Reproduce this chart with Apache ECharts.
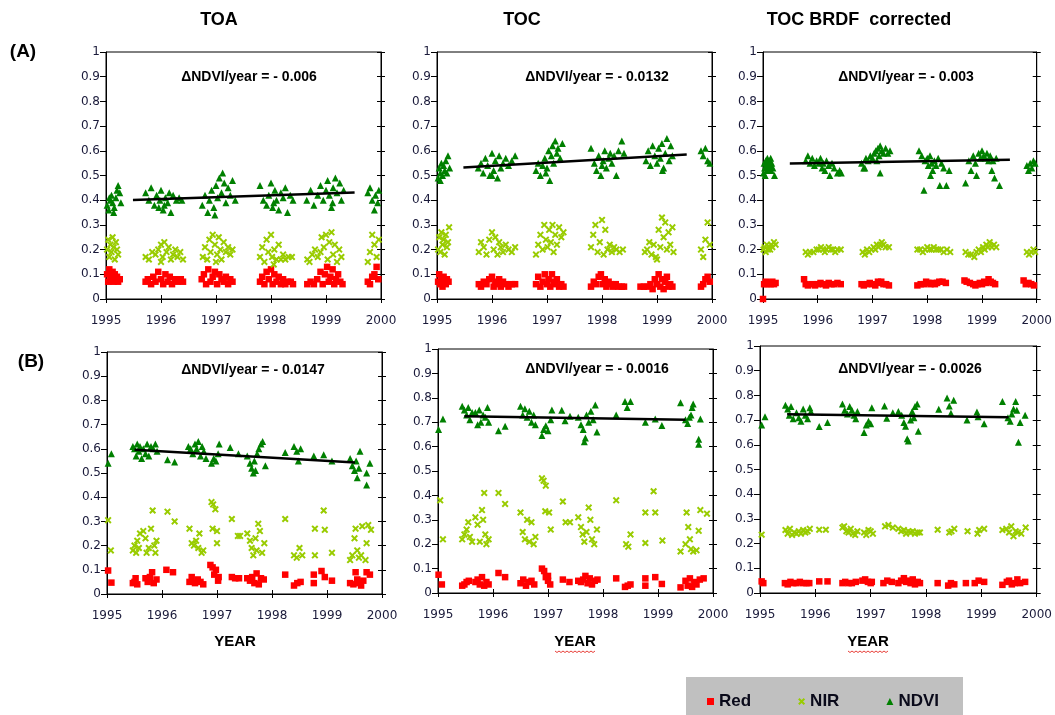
<!DOCTYPE html>
<html>
<head>
<meta charset="utf-8">
<script src="https://cdn.jsdelivr.net/npm/echarts@6/dist/echarts.min.js"></script>
<style>
  html, body { margin: 0; padding: 0; background: #fff; }
  #chart { width: 1055px; height: 715px; }
</style>
</head>
<body>
<div id="chart"></div>
<script>
// (A) TOA
var aToaNdvi = [[1995.02,0.38],[1995.05,0.36],[1995.08,0.40],[1995.1,0.42],[1995.12,0.39],[1995.15,0.37],[1995.18,0.41],[1995.2,0.44],[1995.22,0.46],[1995.25,0.43],[1995.27,0.39],[1995.14,0.35],[1995.06,0.41],
  [1995.72,0.43],[1995.78,0.40],[1995.82,0.45],[1995.88,0.38],[1995.92,0.42],[1995.96,0.37],[1996.0,0.44],[1996.04,0.36],[1996.08,0.41],[1996.12,0.39],[1996.15,0.43],[1996.18,0.35],[1996.22,0.42],[1996.28,0.40],[1996.33,0.41],[1996.38,0.40],[1995.98,0.40],[1996.06,0.38],
  [1996.75,0.38],[1996.8,0.42],[1996.85,0.35],[1996.88,0.40],[1996.92,0.44],[1996.96,0.37],[1997.0,0.46],[1997.03,0.41],[1997.06,0.49],[1997.1,0.43],[1997.12,0.51],[1997.15,0.47],[1997.18,0.39],[1997.22,0.45],[1997.26,0.42],[1997.3,0.48],[1997.35,0.40],[1996.98,0.34],
  [1997.8,0.46],[1997.86,0.40],[1997.92,0.38],[1997.96,0.42],[1998.0,0.47],[1998.03,0.37],[1998.07,0.44],[1998.1,0.40],[1998.14,0.36],[1998.18,0.43],[1998.22,0.41],[1998.26,0.45],[1998.3,0.35],[1998.35,0.42],[1998.4,0.40],[1998.05,0.39],
  [1998.65,0.40],[1998.72,0.44],[1998.78,0.38],[1998.85,0.42],[1998.9,0.46],[1998.95,0.40],[1999.0,0.44],[1999.03,0.48],[1999.06,0.42],[1999.1,0.37],[1999.13,0.45],[1999.17,0.49],[1999.2,0.43],[1999.25,0.47],[1999.28,0.40],[1999.32,0.44],[1999.12,0.39],
  [1999.76,0.43],[1999.8,0.45],[1999.84,0.40],[1999.88,0.36],[1999.9,0.42],[1999.94,0.39],[1999.96,0.44]]
var aToaNir = [[1995.02,0.2],[1995.04,0.24],[1995.06,0.17],[1995.08,0.22],[1995.1,0.19],[1995.12,0.25],[1995.14,0.21],[1995.16,0.16],[1995.18,0.23],[1995.2,0.2],[1995.22,0.18],
  [1995.72,0.17],[1995.78,0.16],[1995.84,0.19],[1995.9,0.18],[1995.95,0.2],[1996.0,0.22],[1996.03,0.17],[1996.06,0.23],[1996.1,0.19],[1996.14,0.21],[1996.18,0.16],[1996.22,0.18],[1996.26,0.2],[1996.3,0.17],[1996.35,0.19],[1996.4,0.16],[1996.0,0.15],
  [1996.76,0.17],[1996.8,0.21],[1996.84,0.16],[1996.88,0.24],[1996.9,0.19],[1996.94,0.26],[1996.98,0.22],[1997.02,0.18],[1997.05,0.25],[1997.08,0.2],[1997.1,0.16],[1997.14,0.23],[1997.18,0.19],[1997.22,0.21],[1997.26,0.18],[1997.3,0.2],[1997.0,0.15],
  [1997.8,0.17],[1997.84,0.21],[1997.88,0.15],[1997.92,0.24],[1997.95,0.19],[1998.0,0.26],[1998.02,0.17],[1998.06,0.2],[1998.1,0.16],[1998.14,0.22],[1998.18,0.16],[1998.22,0.18],[1998.26,0.16],[1998.32,0.17],[1998.38,0.17],[1998.05,0.14],
  [1998.66,0.16],[1998.7,0.15],[1998.75,0.18],[1998.8,0.2],[1998.85,0.17],[1998.9,0.19],[1998.92,0.25],[1998.96,0.21],[1999.0,0.26],[1999.03,0.16],[1999.06,0.23],[1999.1,0.27],[1999.13,0.18],[1999.16,0.22],[1999.2,0.15],[1999.24,0.2],[1999.28,0.17],
  [1999.76,0.15],[1999.8,0.19],[1999.84,0.26],[1999.88,0.22],[1999.92,0.17],[1999.96,0.24]]
var aToaRed = [[1995.02,0.1],[1995.04,0.07],[1995.06,0.12],[1995.08,0.09],[1995.1,0.08],[1995.12,0.11],[1995.14,0.07],[1995.16,0.1],[1995.18,0.08],[1995.2,0.09],[1995.22,0.07],[1995.25,0.08],
  [1995.72,0.07],[1995.76,0.08],[1995.82,0.06],[1995.86,0.09],[1995.9,0.07],[1995.95,0.11],[1996.0,0.08],[1996.04,0.06],[1996.08,0.1],[1996.12,0.07],[1996.16,0.09],[1996.2,0.06],[1996.25,0.08],[1996.3,0.07],[1996.36,0.08],[1996.4,0.07],
  [1996.74,0.08],[1996.78,0.1],[1996.82,0.06],[1996.86,0.12],[1996.9,0.07],[1996.94,0.09],[1996.98,0.11],[1997.02,0.06],[1997.06,0.1],[1997.1,0.08],[1997.14,0.07],[1997.18,0.09],[1997.22,0.06],[1997.26,0.08],[1997.3,0.07],
  [1997.8,0.07],[1997.84,0.09],[1997.88,0.06],[1997.92,0.11],[1997.96,0.08],[1998.0,0.12],[1998.03,0.06],[1998.06,0.1],[1998.1,0.07],[1998.14,0.09],[1998.18,0.06],[1998.22,0.08],[1998.26,0.06],[1998.3,0.07],[1998.36,0.07],[1998.4,0.06],
  [1998.66,0.06],[1998.72,0.07],[1998.78,0.06],[1998.84,0.08],[1998.9,0.11],[1998.94,0.06],[1998.98,0.1],[1999.02,0.13],[1999.05,0.07],[1999.08,0.09],[1999.12,0.12],[1999.15,0.06],[1999.18,0.08],[1999.22,0.1],[1999.26,0.07],[1999.3,0.06],
  [1999.76,0.07],[1999.8,0.06],[1999.84,0.09],[1999.88,0.1],[1999.92,0.13],[1999.95,0.08]]
var aToaTrend = [[1995.49,0.401],[1999.52,0.431]]

// (A) TOC
var aTocNdvi = [[1995.02,0.49],[1995.04,0.53],[1995.06,0.51],[1995.08,0.55],[1995.1,0.5],[1995.12,0.54],[1995.14,0.52],[1995.16,0.56],[1995.18,0.51],[1995.2,0.58],[1995.23,0.53],[1995.06,0.48],
  [1995.75,0.53],[1995.8,0.55],[1995.84,0.51],[1995.88,0.57],[1995.92,0.54],[1995.96,0.5],[1996.0,0.59],[1996.03,0.52],[1996.06,0.56],[1996.1,0.49],[1996.13,0.58],[1996.16,0.53],[1996.2,0.55],[1996.25,0.57],[1996.3,0.54],[1996.36,0.56],[1996.42,0.58],[1996.0,0.5],
  [1996.8,0.52],[1996.84,0.55],[1996.88,0.5],[1996.92,0.54],[1996.96,0.57],[1997.0,0.53],[1997.03,0.6],[1997.05,0.48],[1997.08,0.58],[1997.1,0.62],[1997.12,0.55],[1997.15,0.64],[1997.18,0.59],[1997.2,0.61],[1997.24,0.57],[1997.28,0.63],[1996.98,0.51],
  [1997.8,0.61],[1997.86,0.55],[1997.9,0.52],[1997.94,0.58],[1997.98,0.5],[1998.02,0.56],[1998.05,0.6],[1998.08,0.53],[1998.12,0.57],[1998.15,0.59],[1998.18,0.55],[1998.22,0.58],[1998.26,0.5],[1998.3,0.6],[1998.36,0.64],[1998.4,0.59],[1998.0,0.54],
  [1998.8,0.56],[1998.84,0.6],[1998.88,0.54],[1998.92,0.62],[1998.96,0.58],[1999.0,0.55],[1999.03,0.61],[1999.06,0.57],[1999.09,0.63],[1999.12,0.53],[1999.15,0.59],[1999.18,0.65],[1999.22,0.56],[1999.25,0.62],[1999.28,0.58],[1999.1,0.52],
  [1999.8,0.6],[1999.84,0.58],[1999.88,0.61],[1999.92,0.56],[1999.96,0.55]]
var aTocNir = [[1995.02,0.2],[1995.04,0.25],[1995.06,0.19],[1995.08,0.27],[1995.1,0.22],[1995.12,0.24],[1995.14,0.18],[1995.16,0.26],[1995.18,0.21],[1995.2,0.23],[1995.22,0.29],
  [1995.76,0.19],[1995.8,0.23],[1995.85,0.21],[1995.9,0.18],[1995.95,0.24],[1996.0,0.27],[1996.03,0.2],[1996.06,0.25],[1996.1,0.18],[1996.13,0.23],[1996.16,0.21],[1996.2,0.19],[1996.25,0.22],[1996.3,0.2],[1996.36,0.19],[1996.42,0.21],
  [1996.8,0.18],[1996.84,0.22],[1996.88,0.26],[1996.92,0.2],[1996.95,0.3],[1996.98,0.24],[1997.01,0.21],[1997.04,0.28],[1997.07,0.23],[1997.1,0.3],[1997.12,0.19],[1997.15,0.26],[1997.18,0.22],[1997.22,0.29],[1997.26,0.25],[1997.3,0.27],
  [1997.8,0.21],[1997.84,0.26],[1997.88,0.3],[1997.92,0.19],[1997.96,0.23],[1998.0,0.32],[1998.03,0.18],[1998.06,0.28],[1998.1,0.2],[1998.14,0.22],[1998.18,0.19],[1998.22,0.21],[1998.26,0.2],[1998.32,0.19],[1998.38,0.2],
  [1998.78,0.19],[1998.82,0.2],[1998.86,0.23],[1998.9,0.18],[1998.94,0.22],[1998.98,0.17],[1999.0,0.16],[1999.03,0.28],[1999.06,0.21],[1999.09,0.33],[1999.12,0.25],[1999.15,0.31],[1999.18,0.2],[1999.21,0.27],[1999.24,0.22],[1999.28,0.29],[1999.3,0.19],
  [1999.8,0.2],[1999.84,0.17],[1999.88,0.24],[1999.92,0.31],[1999.96,0.22]]
var aTocRed = [[1995.02,0.07],[1995.04,0.1],[1995.06,0.06],[1995.08,0.08],[1995.1,0.05],[1995.12,0.09],[1995.14,0.07],[1995.16,0.06],[1995.18,0.08],[1995.21,0.07],
  [1995.76,0.06],[1995.8,0.05],[1995.85,0.07],[1995.9,0.06],[1995.95,0.08],[1996.0,0.09],[1996.03,0.05],[1996.06,0.07],[1996.1,0.06],[1996.13,0.08],[1996.16,0.05],[1996.2,0.07],[1996.25,0.06],[1996.3,0.05],[1996.36,0.06],[1996.42,0.06],
  [1996.8,0.06],[1996.84,0.09],[1996.88,0.05],[1996.92,0.07],[1996.96,0.1],[1997.0,0.06],[1997.03,0.08],[1997.06,0.05],[1997.09,0.1],[1997.12,0.07],[1997.15,0.06],[1997.18,0.08],[1997.22,0.05],[1997.26,0.06],[1997.3,0.05],
  [1997.8,0.05],[1997.85,0.07],[1997.9,0.06],[1997.94,0.09],[1997.98,0.1],[1998.02,0.06],[1998.05,0.08],[1998.08,0.05],[1998.12,0.07],[1998.16,0.06],[1998.2,0.05],[1998.25,0.06],[1998.3,0.05],[1998.36,0.05],[1998.4,0.05],
  [1998.7,0.05],[1998.76,0.05],[1998.82,0.05],[1998.88,0.06],[1998.92,0.04],[1998.96,0.08],[1999.0,0.06],[1999.03,0.1],[1999.06,0.05],[1999.09,0.08],[1999.12,0.04],[1999.15,0.07],[1999.18,0.09],[1999.21,0.05],[1999.24,0.06],[1999.28,0.05],
  [1999.8,0.05],[1999.84,0.06],[1999.88,0.08],[1999.92,0.09],[1999.96,0.07]]
var aTocTrend = [[1995.48,0.532],[1999.54,0.585]]

// (A) TOC BRDF corrected
var aBrdfNdvi = [[1995.01,0.51],[1995.02,0.55],[1995.03,0.53],[1995.04,0.5],[1995.05,0.56],[1995.06,0.54],[1995.07,0.52],[1995.08,0.57],[1995.09,0.55],[1995.1,0.53],[1995.12,0.56],[1995.13,0.54],[1995.15,0.52],[1995.16,0.55],[1995.18,0.53],[1995.21,0.5],[1995.14,0.57],
  [1995.78,0.56],[1995.82,0.58],[1995.86,0.55],[1995.9,0.57],[1995.94,0.54],[1995.98,0.56],[1996.02,0.55],[1996.05,0.57],[1996.08,0.53],[1996.1,0.55],[1996.13,0.52],[1996.16,0.56],[1996.2,0.54],[1996.22,0.5],[1996.26,0.55],[1996.3,0.53],[1996.36,0.51],[1996.4,0.52],[1996.43,0.51],
  [1996.8,0.55],[1996.84,0.53],[1996.88,0.57],[1996.92,0.56],[1996.96,0.58],[1997.0,0.57],[1997.03,0.59],[1997.06,0.6],[1997.08,0.56],[1997.1,0.61],[1997.12,0.58],[1997.14,0.62],[1997.17,0.6],[1997.2,0.59],[1997.24,0.61],[1997.28,0.59],[1997.32,0.6],[1997.14,0.51],[1996.86,0.53],
  [1997.85,0.6],[1997.9,0.58],[1997.94,0.44],[1997.96,0.56],[1998.0,0.57],[1998.02,0.54],[1998.05,0.58],[1998.08,0.55],[1998.1,0.52],[1998.13,0.56],[1998.16,0.54],[1998.2,0.57],[1998.23,0.46],[1998.26,0.55],[1998.3,0.53],[1998.35,0.46],[1998.4,0.52],[1998.06,0.5],
  [1998.7,0.47],[1998.76,0.56],[1998.8,0.52],[1998.84,0.58],[1998.88,0.55],[1998.9,0.5],[1998.94,0.59],[1998.97,0.57],[1999.0,0.6],[1999.03,0.58],[1999.06,0.57],[1999.09,0.59],[1999.12,0.56],[1999.15,0.58],[1999.18,0.52],[1999.2,0.56],[1999.23,0.49],[1999.26,0.57],[1999.32,0.46],
  [1999.82,0.54],[1999.85,0.52],[1999.88,0.55],[1999.91,0.53],[1999.94,0.56],[1999.97,0.55]]
var aBrdfNir = [[1995.01,0.2],[1995.03,0.21],[1995.05,0.19],[1995.07,0.22],[1995.09,0.2],[1995.11,0.21],[1995.13,0.2],[1995.15,0.22],[1995.17,0.21],[1995.2,0.23],[1995.23,0.22],
  [1995.78,0.19],[1995.82,0.18],[1995.86,0.19],[1995.92,0.19],[1995.98,0.2],[1996.02,0.2],[1996.06,0.21],[1996.1,0.2],[1996.13,0.19],[1996.16,0.2],[1996.2,0.21],[1996.24,0.2],[1996.28,0.2],[1996.32,0.19],[1996.36,0.2],[1996.42,0.2],
  [1996.82,0.19],[1996.86,0.18],[1996.9,0.2],[1996.94,0.19],[1996.98,0.2],[1997.02,0.21],[1997.05,0.2],[1997.08,0.22],[1997.11,0.21],[1997.14,0.22],[1997.17,0.23],[1997.2,0.22],[1997.24,0.21],[1997.3,0.21],
  [1997.82,0.2],[1997.87,0.2],[1997.92,0.19],[1997.96,0.2],[1998.0,0.21],[1998.04,0.2],[1998.08,0.2],[1998.12,0.21],[1998.16,0.2],[1998.2,0.2],[1998.25,0.2],[1998.3,0.19],[1998.36,0.2],[1998.42,0.19],
  [1998.7,0.19],[1998.75,0.18],[1998.8,0.18],[1998.86,0.17],[1998.9,0.19],[1998.94,0.2],[1998.98,0.19],[1999.02,0.21],[1999.05,0.2],[1999.08,0.22],[1999.11,0.21],[1999.14,0.23],[1999.18,0.21],[1999.22,0.22],[1999.26,0.21],
  [1999.82,0.19],[1999.86,0.18],[1999.9,0.19],[1999.94,0.2],[1999.97,0.19]]
var aBrdfRed = [[1995.0,0.0],[1995.02,0.06],[1995.05,0.07],[1995.08,0.06],[1995.11,0.065],[1995.14,0.06],[1995.17,0.07],[1995.2,0.06],[1995.23,0.065],
  [1995.75,0.08],[1995.78,0.06],[1995.82,0.055],[1995.9,0.06],[1995.95,0.055],[1996.0,0.06],[1996.05,0.065],[1996.1,0.06],[1996.15,0.055],[1996.2,0.065],[1996.25,0.06],[1996.3,0.06],[1996.36,0.065],[1996.42,0.06],
  [1996.8,0.06],[1996.84,0.055],[1996.9,0.06],[1996.95,0.065],[1997.0,0.06],[1997.05,0.055],[1997.1,0.07],[1997.13,0.065],[1997.16,0.07],[1997.2,0.06],[1997.25,0.06],[1997.3,0.055],
  [1997.82,0.055],[1997.88,0.06],[1997.94,0.06],[1997.98,0.07],[1998.02,0.065],[1998.06,0.06],[1998.1,0.065],[1998.14,0.06],[1998.18,0.065],[1998.22,0.07],[1998.28,0.07],[1998.34,0.065],
  [1998.68,0.075],[1998.72,0.07],[1998.78,0.065],[1998.84,0.06],[1998.88,0.055],[1998.92,0.06],[1998.96,0.065],[1999.0,0.06],[1999.04,0.07],[1999.08,0.065],[1999.12,0.08],[1999.16,0.07],[1999.2,0.065],[1999.24,0.06],
  [1999.76,0.075],[1999.8,0.06],[1999.85,0.065],[1999.9,0.06],[1999.95,0.055]]
var aBrdfTrend = [[1995.49,0.549],[1999.51,0.564]]

// (B) TOA
var bToaNdvi = [[1995.02,0.54],[1995.08,0.58],
  [1995.47,0.61],[1995.5,0.6],[1995.53,0.57],[1995.55,0.62],[1995.58,0.59],[1995.6,0.61],[1995.63,0.56],[1995.66,0.6],[1995.7,0.58],[1995.73,0.62],[1995.76,0.57],[1995.8,0.61],[1995.84,0.6],[1995.88,0.62],[1995.91,0.59],
  [1996.1,0.555],[1996.23,0.545],
  [1996.48,0.61],[1996.52,0.6],[1996.56,0.58],[1996.6,0.62],[1996.63,0.6],[1996.66,0.63],[1996.7,0.57],[1996.73,0.61],[1996.76,0.59],[1996.8,0.56],
  [1996.9,0.54],[1996.94,0.56],[1996.98,0.55],[1997.02,0.58],[1997.04,0.62],
  [1997.24,0.605],[1997.39,0.58],
  [1997.55,0.57],[1997.6,0.54],[1997.63,0.52],[1997.66,0.5],[1997.68,0.55],[1997.7,0.51],[1997.73,0.58],[1997.76,0.6],[1997.8,0.62],[1997.83,0.63],[1997.88,0.53],
  [1998.24,0.585],[1998.4,0.61],[1998.45,0.59],[1998.48,0.55],[1998.52,0.6],
  [1998.76,0.57],[1998.94,0.575],[1999.09,0.55],
  [1999.42,0.56],[1999.46,0.53],[1999.5,0.51],[1999.53,0.55],[1999.55,0.48],[1999.58,0.52],[1999.6,0.59],[1999.72,0.5],[1999.72,0.45],[1999.78,0.54]]
var bToaNir = [[1995.02,0.305],[1995.07,0.18],
  [1995.47,0.18],[1995.5,0.2],[1995.53,0.17],[1995.55,0.22],[1995.58,0.19],[1995.6,0.25],
  [1995.66,0.26],[1995.7,0.23],[1995.72,0.17],[1995.76,0.19],[1995.8,0.27],[1995.83,0.345],[1995.86,0.2],[1995.88,0.17],[1995.9,0.22],
  [1996.1,0.34],[1996.23,0.3],
  [1996.5,0.27],[1996.54,0.21],[1996.58,0.2],[1996.62,0.22],[1996.66,0.19],[1996.68,0.25],[1996.72,0.17],[1996.75,0.18],
  [1996.9,0.38],[1996.93,0.37],[1996.97,0.35],[1996.92,0.27],[1997.0,0.26],[1997.0,0.21],
  [1997.27,0.31],[1997.38,0.24],[1997.42,0.24],
  [1997.55,0.25],[1997.6,0.22],[1997.63,0.19],[1997.66,0.16],[1997.7,0.23],[1997.72,0.18],[1997.75,0.29],[1997.78,0.26],[1997.82,0.17],[1997.86,0.21],
  [1998.24,0.31],
  [1998.4,0.16],[1998.45,0.15],[1998.5,0.19],[1998.55,0.16],
  [1998.78,0.16],[1998.78,0.27],[1998.94,0.345],[1998.96,0.265],[1999.09,0.17],
  [1999.42,0.14],[1999.46,0.16],[1999.5,0.23],[1999.52,0.27],[1999.55,0.18],[1999.58,0.15],[1999.62,0.16],[1999.64,0.28],[1999.72,0.21],[1999.75,0.285],[1999.8,0.265],[1999.7,0.14]]
var bToaRed = [[1995.02,0.097],[1995.08,0.047],
  [1995.47,0.045],[1995.5,0.05],[1995.52,0.065],[1995.55,0.04],
  [1995.7,0.065],[1995.74,0.05],[1995.78,0.07],[1995.82,0.09],[1995.85,0.045],[1995.9,0.06],
  [1996.08,0.1],[1996.2,0.09],
  [1996.5,0.05],[1996.54,0.07],[1996.6,0.045],[1996.65,0.06],[1996.7,0.05],[1996.75,0.04],
  [1996.88,0.12],[1996.92,0.11],[1996.95,0.08],[1996.98,0.1],[1997.02,0.055],[1997.03,0.07],
  [1997.27,0.07],[1997.33,0.065],[1997.4,0.065],
  [1997.55,0.065],[1997.6,0.055],[1997.64,0.07],[1997.68,0.045],[1997.72,0.085],[1997.76,0.04],[1997.8,0.065],[1997.85,0.06],
  [1998.24,0.08],[1998.4,0.035],[1998.46,0.045],[1998.52,0.05],
  [1998.76,0.08],[1998.76,0.045],[1998.9,0.095],[1998.96,0.07],[1999.09,0.055],
  [1999.42,0.045],[1999.48,0.04],[1999.52,0.09],[1999.55,0.06],[1999.58,0.045],[1999.62,0.035],[1999.66,0.055],[1999.72,0.09],[1999.78,0.08]]
var bToaTrend = [[1995.5,0.596],[1999.51,0.543]]

// (B) TOC
var bTocNdvi = [[1995.01,0.67],[1995.09,0.713],
  [1995.44,0.765],[1995.48,0.75],[1995.52,0.73],[1995.55,0.76],[1995.58,0.71],[1995.62,0.74],[1995.68,0.74],[1995.72,0.69],[1995.75,0.75],[1995.78,0.7],[1995.82,0.73],[1995.86,0.72],[1995.9,0.76],[1995.92,0.7],
  [1996.1,0.665],[1996.22,0.683],
  [1996.5,0.765],[1996.54,0.73],[1996.58,0.755],[1996.62,0.72],[1996.66,0.745],[1996.7,0.7],[1996.74,0.73],[1996.77,0.69],
  [1996.89,0.645],[1996.92,0.67],[1996.96,0.685],[1997.0,0.665],[1997.07,0.75],[1997.05,0.71],
  [1997.25,0.749],[1997.31,0.706],[1997.4,0.724],
  [1997.55,0.72],[1997.6,0.69],[1997.64,0.67],[1997.66,0.62],[1997.68,0.635],[1997.7,0.73],[1997.74,0.7],[1997.78,0.745],[1997.82,0.71],[1997.86,0.77],[1997.89,0.66],
  [1998.24,0.73],[1998.4,0.785],[1998.44,0.76],[1998.5,0.785],
  [1998.77,0.7],[1998.95,0.713],[1999.07,0.686],
  [1999.41,0.78],[1999.5,0.71],[1999.54,0.695],[1999.57,0.72],[1999.6,0.73],[1999.62,0.76],[1999.64,0.775],[1999.74,0.63],[1999.74,0.61],[1999.77,0.713]]
var bTocNir = [[1995.04,0.38],[1995.09,0.22],
  [1995.44,0.22],[1995.48,0.24],[1995.52,0.26],[1995.55,0.29],[1995.58,0.23],[1995.62,0.21],
  [1995.68,0.31],[1995.72,0.28],[1995.76,0.21],[1995.8,0.34],[1995.82,0.3],[1995.84,0.41],[1995.86,0.24],[1995.88,0.2],[1995.92,0.22],
  [1996.1,0.41],[1996.22,0.365],
  [1996.5,0.33],[1996.54,0.25],[1996.58,0.22],[1996.62,0.3],[1996.66,0.21],[1996.7,0.29],[1996.74,0.2],[1996.77,0.23],
  [1996.89,0.47],[1996.92,0.46],[1996.96,0.44],[1996.95,0.335],[1997.02,0.33],[1997.05,0.26],
  [1997.27,0.375],[1997.32,0.29],[1997.4,0.29],
  [1997.55,0.31],[1997.6,0.27],[1997.63,0.24],[1997.66,0.21],[1997.7,0.25],[1997.74,0.35],[1997.77,0.3],[1997.8,0.22],[1997.84,0.2],[1997.89,0.26],
  [1998.24,0.38],[1998.42,0.2],[1998.46,0.19],[1998.5,0.24],
  [1998.77,0.33],[1998.77,0.205],[1998.92,0.417],[1998.95,0.33],[1999.08,0.215],
  [1999.41,0.17],[1999.5,0.2],[1999.52,0.33],[1999.55,0.27],[1999.58,0.22],[1999.6,0.18],[1999.64,0.17],[1999.7,0.175],[1999.74,0.255],[1999.77,0.34],[1999.89,0.325]]
var bTocRed = [[1995.01,0.075],[1995.07,0.035],
  [1995.44,0.03],[1995.48,0.035],[1995.52,0.045],[1995.56,0.05],
  [1995.68,0.045],[1995.72,0.055],[1995.76,0.035],[1995.8,0.065],[1995.84,0.03],[1995.88,0.045],[1995.92,0.035],
  [1996.1,0.082],[1996.22,0.065],
  [1996.5,0.04],[1996.55,0.055],[1996.6,0.03],[1996.65,0.045],[1996.7,0.05],[1996.75,0.035],
  [1996.89,0.1],[1996.93,0.09],[1996.96,0.065],[1997.0,0.05],[1997.04,0.035],[1997.0,0.07],
  [1997.27,0.055],[1997.39,0.045],
  [1997.55,0.05],[1997.6,0.045],[1997.64,0.055],[1997.68,0.07],[1997.72,0.04],[1997.76,0.06],[1997.8,0.035],[1997.85,0.05],[1997.9,0.055],
  [1998.24,0.06],[1998.4,0.025],[1998.45,0.03],[1998.5,0.035],
  [1998.77,0.06],[1998.77,0.03],[1998.95,0.065],[1999.07,0.037],
  [1999.41,0.023],[1999.5,0.05],[1999.54,0.03],[1999.58,0.06],[1999.62,0.025],[1999.66,0.045],[1999.7,0.035],[1999.76,0.055],[1999.83,0.06]]
var bTocTrend = [[1995.48,0.724],[1999.5,0.71]]

// (B) TOC BRDF corrected
var bBrdfNdvi = [[1995.03,0.68],[1995.09,0.714],
  [1995.46,0.76],[1995.5,0.745],[1995.53,0.72],[1995.56,0.755],[1995.6,0.705],[1995.66,0.73],[1995.7,0.71],[1995.74,0.695],[1995.78,0.745],[1995.82,0.72],[1995.86,0.705],[1995.9,0.75],[1995.92,0.735],
  [1996.07,0.674],[1996.22,0.69],
  [1996.49,0.765],[1996.53,0.74],[1996.58,0.725],[1996.62,0.755],[1996.66,0.74],[1996.7,0.72],[1996.73,0.705],[1996.76,0.735],
  [1996.88,0.65],[1996.92,0.68],[1996.96,0.695],[1997.0,0.685],[1997.02,0.75],
  [1997.25,0.757],[1997.29,0.707],[1997.4,0.73],[1997.5,0.735],
  [1997.56,0.72],[1997.6,0.69],[1997.63,0.675],[1997.66,0.625],[1997.68,0.615],[1997.72,0.7],[1997.75,0.735],[1997.78,0.71],[1997.8,0.755],[1997.84,0.765],[1997.86,0.655],
  [1998.23,0.744],[1998.38,0.789],[1998.42,0.757],[1998.5,0.78],[1998.45,0.728],
  [1998.74,0.7],[1998.92,0.733],[1998.94,0.714],[1999.05,0.685],
  [1999.38,0.775],[1999.48,0.71],[1999.52,0.695],[1999.55,0.725],[1999.58,0.745],[1999.62,0.775],[1999.64,0.74],[1999.67,0.61],[1999.7,0.69],[1999.79,0.72]]
var bBrdfNir = [[1995.03,0.236],
  [1995.46,0.255],[1995.5,0.24],[1995.54,0.26],[1995.58,0.235],[1995.62,0.245],[1995.66,0.24],[1995.7,0.25],[1995.74,0.24],[1995.78,0.255],[1995.82,0.245],[1995.86,0.25],[1995.9,0.26],
  [1996.07,0.256],[1996.19,0.256],
  [1996.49,0.265],[1996.52,0.27],[1996.56,0.25],[1996.6,0.245],[1996.64,0.26],[1996.68,0.24],[1996.72,0.235],[1996.76,0.25],
  [1996.88,0.245],[1996.92,0.235],[1996.96,0.255],[1997.0,0.25],[1997.04,0.24],
  [1997.26,0.27],[1997.32,0.275],[1997.4,0.265],
  [1997.5,0.26],[1997.55,0.25],[1997.6,0.255],[1997.64,0.24],[1997.68,0.25],[1997.72,0.245],[1997.76,0.25],[1997.8,0.24],[1997.85,0.245],[1997.89,0.245],
  [1998.21,0.256],[1998.42,0.245],[1998.46,0.25],[1998.51,0.26],
  [1998.75,0.25],[1998.93,0.24],[1998.96,0.255],[1999.05,0.26],
  [1999.38,0.255],[1999.45,0.26],[1999.5,0.245],[1999.54,0.27],[1999.58,0.23],[1999.62,0.25],[1999.66,0.245],[1999.72,0.24],[1999.8,0.265]]
var bBrdfRed = [[1995.03,0.047],[1995.06,0.04],
  [1995.45,0.04],[1995.5,0.035],[1995.55,0.045],[1995.6,0.04],[1995.66,0.04],[1995.72,0.045],[1995.78,0.04],[1995.84,0.04],[1995.89,0.04],
  [1996.07,0.047],[1996.22,0.047],
  [1996.49,0.04],[1996.54,0.045],[1996.6,0.04],[1996.66,0.04],[1996.73,0.045],
  [1996.85,0.05],[1996.9,0.055],[1996.95,0.045],[1997.0,0.04],[1997.02,0.045],
  [1997.23,0.04],[1997.3,0.05],[1997.38,0.045],
  [1997.5,0.04],[1997.55,0.05],[1997.6,0.06],[1997.64,0.045],[1997.68,0.05],[1997.72,0.04],[1997.76,0.055],[1997.8,0.035],[1997.85,0.045],[1997.89,0.04],
  [1998.21,0.04],[1998.4,0.03],[1998.45,0.04],[1998.51,0.035],
  [1998.72,0.04],[1998.88,0.04],[1998.95,0.05],[1999.05,0.045],
  [1999.38,0.033],[1999.46,0.045],[1999.5,0.05],[1999.55,0.035],[1999.6,0.04],[1999.65,0.055],[1999.7,0.04],[1999.79,0.045]]
var bBrdfTrend = [[1995.49,0.724],[1999.49,0.712]]

var columnTitles = ['TOA', 'TOC', 'TOC BRDF  corrected']
var rowLabels = ['(A)', '(B)']
var slopeLabels = ['- 0.006', '- 0.0132', '- 0.003', '- 0.0147', '- 0.0016', '- 0.0026']
var legendNames = ['Red', 'NIR', 'NDVI']

var panels = [
  { grid: { left: 106, top: 52, width: 275, height: 247 }, red: aToaRed, nir: aToaNir, ndvi: aToaNdvi, trend: aToaTrend, note: [249, 77] },
  { grid: { left: 437, top: 52, width: 275, height: 247 }, red: aTocRed, nir: aTocNir, ndvi: aTocNdvi, trend: aTocTrend, note: [597, 77] },
  { grid: { left: 763, top: 52, width: 277, height: 247 }, red: aBrdfRed, nir: aBrdfNir, ndvi: aBrdfNdvi, trend: aBrdfTrend, note: [906, 77] },
  { grid: { left: 107, top: 352, width: 275, height: 242 }, red: bToaRed, nir: bToaNir, ndvi: bToaNdvi, trend: bToaTrend, note: [253, 370] },
  { grid: { left: 438, top: 349, width: 275, height: 244 }, red: bTocRed, nir: bTocNir, ndvi: bTocNdvi, trend: bTocTrend, note: [597, 369] },
  { grid: { left: 760, top: 346, width: 280, height: 247 }, red: bBrdfRed, nir: bBrdfNir, ndvi: bBrdfNdvi, trend: bBrdfTrend, note: [910, 369] },
]

var RED = '#ff0000'
var NIR = '#99cc00'
var NDVI = '#008000'
var crossPath = 'path://M0,2L2,0L5,3L8,0L10,2L7,5L10,8L8,10L5,7L2,10L0,8L3,5Z'
var tickFont = { fontFamily: 'DejaVu Sans', fontSize: 12, color: '#1a1a3a' }

var chart = echarts.init(document.getElementById('chart'))

var grids = [], xAxes = [], yAxes = [], series = []
panels.forEach(function (p, i) {
  grids.push(Object.assign({ show: true, borderColor: '#000', borderWidth: 1, backgroundColor: 'transparent' }, p.grid))
  // bottom: labels + ticks crossing the line
  xAxes.push({
    type: 'value', gridIndex: i, min: 1995, max: 2000, interval: 1,
    axisLine: { show: true, lineStyle: { color: '#000' } },
    axisTick: { show: true, length: 4, lineStyle: { color: '#000' } },
    axisLabel: Object.assign({ margin: 16, formatter: function (v) { return String(v) } }, tickFont),
    splitLine: { show: false },
  })
  xAxes.push({
    type: 'value', gridIndex: i, min: 1995, max: 2000, interval: 1, position: 'bottom',
    axisLine: { show: false },
    axisTick: { show: true, inside: true, length: 4, lineStyle: { color: '#000' } },
    axisLabel: { show: false }, splitLine: { show: false },
  })
  yAxes.push({
    type: 'value', gridIndex: i, min: 0, max: 1, interval: 0.1,
    axisLine: { show: true, lineStyle: { color: '#000' } },
    axisTick: { show: true, length: 6, lineStyle: { color: '#000' } },
    axisLabel: Object.assign({ margin: 6, formatter: function (v) { return String(Math.round(v * 10) / 10) } }, tickFont),
    splitLine: { show: false },
  })
  yAxes.push({
    type: 'value', gridIndex: i, min: 0, max: 1, interval: 0.1, position: 'right',
    axisLine: { show: true, lineStyle: { color: '#000' } },
    axisTick: { show: true, length: 4, lineStyle: { color: '#000' } },
    axisLabel: { show: false }, splitLine: { show: false },
  })
  yAxes.push({
    type: 'value', gridIndex: i, min: 0, max: 1, interval: 0.1, position: 'right',
    axisLine: { show: false },
    axisTick: { show: true, inside: true, length: 4, lineStyle: { color: '#000' } },
    axisLabel: { show: false }, splitLine: { show: false },
  })

  var xi = i * 2, yi = i * 3
  series.push({
    name: 'Red', type: 'scatter', xAxisIndex: xi, yAxisIndex: yi,
    symbol: 'rect', symbolSize: 6.5, itemStyle: { color: RED, opacity: 1 }, data: p.red,
  })
  series.push({
    name: 'NIR', type: 'scatter', xAxisIndex: xi, yAxisIndex: yi,
    symbol: crossPath, symbolSize: 7, itemStyle: { color: NIR, opacity: 1 }, data: p.nir,
  })
  series.push({
    name: 'NDVI', type: 'scatter', xAxisIndex: xi, yAxisIndex: yi,
    symbol: 'triangle', symbolSize: 7, itemStyle: { color: NDVI, opacity: 1 }, data: p.ndvi,
  })
  series.push({
    name: 'trend', type: 'line', xAxisIndex: xi, yAxisIndex: yi,
    symbol: 'none', lineStyle: { color: '#000', width: 2.5 }, z: 5, data: p.trend,
  })
})

var graphics = []
// legend background
graphics.push({ type: 'rect', left: 686, top: 677, shape: { width: 277, height: 38 }, style: { fill: '#c0c0c0' }, z: -1 })

var titleFont = 'bold 18px "Liberation Sans", Arial, sans-serif'
var titleX = [219, 522, 859]
columnTitles.forEach(function (t, i) {
  graphics.push({ type: 'text', x: titleX[i], y: 20, style: { text: t, font: titleFont, fill: '#000', align: 'center', verticalAlign: 'middle', textAlign: 'center', textVerticalAlign: 'middle' } })
})
var rowPos = [[23, 52], [31, 362]]
rowLabels.forEach(function (t, i) {
  graphics.push({ type: 'text', x: rowPos[i][0], y: rowPos[i][1], style: { text: t, font: 'bold 19px "Liberation Sans", Arial, sans-serif', fill: '#000', align: 'center', verticalAlign: 'middle', textAlign: 'center', textVerticalAlign: 'middle' } })
})
panels.forEach(function (p, i) {
  graphics.push({ type: 'text', x: p.note[0], y: p.note[1], style: { text: '\u0394NDVI/year = ' + slopeLabels[i], font: 'bold 14px "Liberation Sans", Arial, sans-serif', fill: '#000', align: 'center', verticalAlign: 'middle', textAlign: 'center', textVerticalAlign: 'middle' } })
})
var yearX = [235, 575, 868]
yearX.forEach(function (x, i) {
  graphics.push({ type: 'text', x: x, y: 642, style: { text: 'YEAR', font: 'bold 15px "Liberation Sans", Arial, sans-serif', fill: '#000', align: 'center', verticalAlign: 'middle', textAlign: 'center', textVerticalAlign: 'middle' } })
  if (i > 0) {
    // spell-check squiggle under YEAR
    var pts = []
    for (var k = 0; k <= 20; k++) pts.push([x - 20 + k * 2, 651 + (k % 2 ? 1.5 : 0)])
    graphics.push({ type: 'polyline', shape: { points: pts }, style: { stroke: '#e8403a', lineWidth: 1, fill: null } })
  }
})

var option = {
  animation: false,
  backgroundColor: '#fff',
  grid: grids,
  xAxis: xAxes,
  yAxis: yAxes,
  legend: {
    left: 702, top: 688,
    itemWidth: 7, itemHeight: 7, itemGap: 47,
    textStyle: { fontFamily: '"Liberation Sans", Arial, sans-serif', fontWeight: 'bold', fontSize: 17, color: '#0a0a1a' },
    data: [
      { name: legendNames[0], icon: 'rect' },
      { name: legendNames[1], icon: crossPath },
      { name: legendNames[2], icon: 'triangle' },
    ],
    selectedMode: false,
  },
  graphic: graphics,
  series: series,
}
chart.setOption(option)
</script>
</body>
</html>
